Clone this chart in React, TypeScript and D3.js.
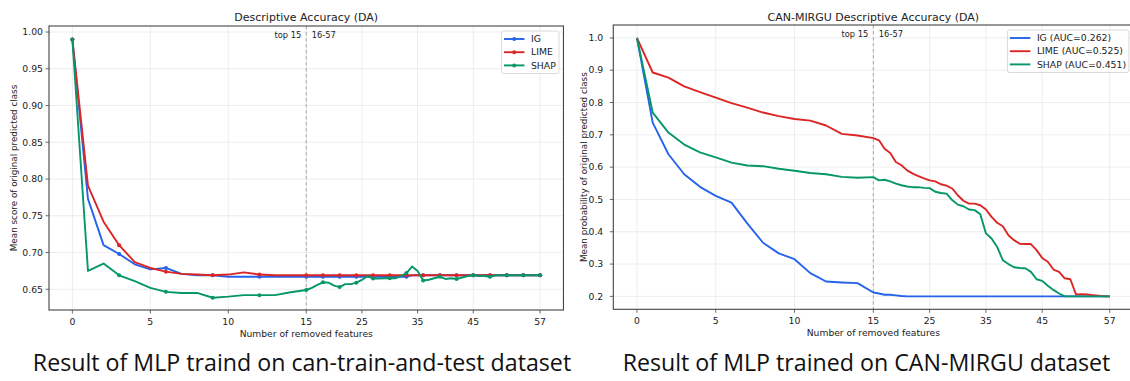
import React from "react";
import * as d3 from "d3";

// ---------- data ----------
const removedFeatures = d3.range(0, 58);
const xTickValues = [0, 5, 10, 15, 25, 35, 45, 57];

const leftTitle = "Descriptive Accuracy (DA)";
const leftYLabel = "Mean score of original predicted class";
const leftYTicks = [0.65, 0.7, 0.75, 0.8, 0.85, 0.9, 0.95, 1.0];
const leftLegend = ["IG", "LIME", "SHAP"];
const leftIG = [
  0.99, 0.773, 0.71, 0.698, 0.684, 0.677, 0.679, 0.671, 0.669, 0.669, 0.667, 0.667, 0.667, 0.667, 0.667, 0.667,
  0.667, 0.667, 0.667, 0.667, 0.667, 0.667, 0.667, 0.667, 0.667, 0.667, 0.667, 0.667, 0.667, 0.667, 0.667, 0.667,
  0.667, 0.667, 0.669, 0.669, 0.669, 0.669, 0.669, 0.669, 0.669, 0.669, 0.669, 0.669, 0.669, 0.669, 0.669, 0.669,
  0.669, 0.669, 0.669, 0.669, 0.669, 0.669, 0.669, 0.669, 0.669, 0.669,
];
const leftLIME = [
  0.99, 0.791, 0.742, 0.71, 0.687, 0.679, 0.674, 0.671, 0.67, 0.669, 0.67, 0.673, 0.67, 0.669, 0.669, 0.669,
  0.669, 0.669, 0.669, 0.669, 0.669, 0.669, 0.669, 0.669, 0.669, 0.669, 0.669, 0.669, 0.669, 0.669, 0.669, 0.669,
  0.669, 0.669, 0.669, 0.669, 0.669, 0.669, 0.669, 0.669, 0.669, 0.669, 0.669, 0.669, 0.669, 0.669, 0.669, 0.669,
  0.669, 0.669, 0.669, 0.669, 0.669, 0.669, 0.669, 0.669, 0.669, 0.669,
];
const leftSHAP = [
  0.99, 0.675, 0.685, 0.669, 0.661, 0.652, 0.6465, 0.645, 0.645, 0.6385, 0.64, 0.642, 0.642, 0.642, 0.646, 0.649,
  0.652, 0.656, 0.6595, 0.659, 0.655, 0.653, 0.657, 0.657, 0.659, 0.6627, 0.668, 0.6645, 0.6645, 0.665, 0.665, 0.665,
  0.668, 0.672, 0.681, 0.675, 0.662, 0.663, 0.665, 0.667, 0.664, 0.665, 0.664, 0.666, 0.668, 0.669, 0.668, 0.668,
  0.667, 0.669, 0.669, 0.669, 0.669, 0.669, 0.669, 0.669, 0.669, 0.669,
];

const rightTitle = "CAN-MIRGU Descriptive Accuracy (DA)";
const rightYLabel = "Mean probability of original predicted class";
const rightYTicks = [0.2, 0.3, 0.4, 0.5, 0.6, 0.7, 0.8, 0.9, 1.0];
const rightLegend = ["IG (AUC=0.262)", "LIME (AUC=0.525)", "SHAP (AUC=0.451)"];
const rightIG = [
  1.0, 0.738, 0.64, 0.578, 0.539, 0.511, 0.49, 0.426, 0.366, 0.333, 0.315, 0.272, 0.246, 0.243, 0.241, 0.212,
  0.209, 0.205, 0.205, 0.203, 0.201, 0.2, 0.2, 0.2, 0.2, 0.2, 0.2, 0.2, 0.2, 0.2, 0.2, 0.2,
  0.2, 0.2, 0.2, 0.2, 0.2, 0.2, 0.2, 0.2, 0.2, 0.2, 0.2, 0.2, 0.2, 0.2, 0.2, 0.2,
  0.2, 0.2, 0.2, 0.2, 0.2, 0.2, 0.2, 0.2, 0.2, 0.2,
];
const rightLIME = [
  1.0, 0.893, 0.877, 0.85, 0.832, 0.815, 0.798, 0.784, 0.769, 0.758, 0.749, 0.744, 0.729, 0.703, 0.698, 0.69,
  0.683, 0.657, 0.644, 0.616, 0.606, 0.59, 0.58, 0.572, 0.565, 0.559, 0.556, 0.547, 0.543, 0.534, 0.513, 0.496,
  0.487, 0.487, 0.482, 0.469, 0.446, 0.428, 0.417, 0.389, 0.374, 0.363, 0.362, 0.362, 0.343, 0.319, 0.307, 0.283,
  0.276, 0.256, 0.253, 0.206, 0.207, 0.206, 0.204, 0.202, 0.2, 0.2,
];
const rightSHAP = [
  1.0, 0.769, 0.707, 0.67, 0.646, 0.63, 0.614, 0.605, 0.603, 0.595, 0.589, 0.582, 0.578, 0.57, 0.567, 0.569,
  0.559, 0.561, 0.556, 0.549, 0.544, 0.54, 0.538, 0.538, 0.536, 0.535, 0.524, 0.52, 0.518, 0.498, 0.484, 0.479,
  0.469, 0.467, 0.454, 0.395, 0.379, 0.353, 0.312, 0.3, 0.29, 0.288, 0.287, 0.276, 0.253, 0.248, 0.233, 0.22,
  0.209, 0.2, 0.2, 0.2, 0.2, 0.2, 0.2, 0.2, 0.2, 0.2,
];

const captions = [
  "Result of MLP traind on can-train-and-test dataset",
  "Result of MLP trained on CAN-MIRGU dataset",
];

const colors = ["#2563eb", "#dc2626", "#059669"];
const FONT = "'DejaVu Sans', sans-serif";

type ChartProps = {
  id: string;
  left: number;
  top: number;
  bottom: number;
  unit: number; // px per feature in the first (top-15) part
  yDomain: [number, number];
  yTicks: number[];
  yFmt: (v: number) => string;
  title: string;
  yLabel: string;
  yLabelX: number;
  series: number[][];
  legend: string[];
  legendW: number;
  markers: boolean;
  tickLabelGap: number;
  caption: string;
  captionX: number;
};

function Chart(p: ChartProps) {
  const right = p.left + 33 * p.unit;
  // x: 0..15 linear, 15..57 compressed into the same width as 0..15
  const x = d3
    .scaleLinear()
    .domain([-1.5, 15, 15 + (16.5 * 42) / 15])
    .range([p.left, p.left + 16.5 * p.unit, right]);
  const y = d3.scaleLinear().domain(p.yDomain).range([p.bottom, p.top]);
  const line = d3
    .line<number>()
    .x((_, i) => x(removedFeatures[i]))
    .y((d) => y(d));
  const cx = (p.left + right) / 2;
  const x15 = x(15);
  const legendX = right - 4.5 - p.legendW;
  const legendY = p.top + 5;
  return (
    <g>
      <defs>
        <clipPath id={p.id}>
          <rect x={p.left} y={p.top} width={right - p.left} height={p.bottom - p.top} />
        </clipPath>
      </defs>
      {/* grid */}
      {xTickValues.map((t) => (
        <line key={"gx" + t} x1={x(t)} x2={x(t)} y1={p.top} y2={p.bottom} stroke="#e8e8e8" strokeWidth={0.8} />
      ))}
      {p.yTicks.map((t) => (
        <line key={"gy" + t} x1={p.left} x2={right} y1={y(t)} y2={y(t)} stroke="#e8e8e8" strokeWidth={0.8} />
      ))}
      {/* divider */}
      <line x1={x15} x2={x15} y1={p.top} y2={p.bottom} stroke="#a8a8a8" strokeWidth={1} strokeDasharray="3.5,2.5" />
      <text x={x15 - 5} y={p.top + 12} fontSize={8.3} fontFamily={FONT} textAnchor="end" fill="#222">
        top 15
      </text>
      <text x={x15 + 5.5} y={p.top + 12} fontSize={8.3} fontFamily={FONT} fill="#222">
        16-57
      </text>
      {/* lines */}
      <g clipPath={`url(#${p.id})`}>
        {p.series.map((s, k) => (
          <g key={"s" + k}>
            <path d={line(s) || ""} fill="none" stroke={colors[k]} strokeWidth={1.9} strokeLinejoin="round" />
            {p.markers &&
              s.map((v, i) =>
                i % 3 === 0 ? <circle key={i} cx={x(removedFeatures[i])} cy={y(v)} r={2} fill={colors[k]} /> : null
              )}
          </g>
        ))}
      </g>
      {/* spines */}
      <rect x={p.left} y={p.top} width={right - p.left} height={p.bottom - p.top} fill="none" stroke="#444" strokeWidth={1.1} />
      {/* x ticks */}
      {xTickValues.map((t) => (
        <g key={"tx" + t}>
          <line x1={x(t)} x2={x(t)} y1={p.bottom} y2={p.bottom + 3.5} stroke="#444" strokeWidth={0.8} />
          <text x={x(t)} y={p.bottom + 15} fontSize={9.3} fontFamily={FONT} textAnchor="middle" fill="#222">
            {t}
          </text>
        </g>
      ))}
      {/* y ticks */}
      {p.yTicks.map((t) => (
        <g key={"ty" + t}>
          <line x1={p.left - 3.5} x2={p.left} y1={y(t)} y2={y(t)} stroke="#444" strokeWidth={0.8} />
          <text
            x={p.left - p.tickLabelGap}
            y={y(t)}
            dy="0.35em"
            fontSize={9.3}
            fontFamily={FONT}
            textAnchor="end"
            fill="#222"
          >
            {p.yFmt(t)}
          </text>
        </g>
      ))}
      {/* labels */}
      <text x={cx} y={21} fontSize={11} fontFamily={FONT} textAnchor="middle" fill="#222">
        {p.title}
      </text>
      <text x={cx} y={p.bottom + 27} fontSize={9.2} fontFamily={FONT} textAnchor="middle" fill="#222">
        Number of removed features
      </text>
      <text
        transform={`translate(${p.yLabelX},${(p.top + p.bottom) / 2}) rotate(-90)`}
        dy="0.35em"
        fontSize={8.8}
        fontFamily={FONT}
        textAnchor="middle"
        fill="#222"
      >
        {p.yLabel}
      </text>
      {/* legend */}
      <rect x={legendX} y={legendY} width={p.legendW} height={42.5} rx={2} fill="#fff" fillOpacity={0.85} stroke="#d0d0d0" strokeWidth={0.8} />
      {p.legend.map((name, k) => {
        const ly = legendY + 8 + k * 13.2;
        return (
          <g key={"lg" + k}>
            <line x1={legendX + 2.5} x2={legendX + 23} y1={ly} y2={ly} stroke={colors[k]} strokeWidth={1.9} />
            {p.markers && <circle cx={legendX + 12.75} cy={ly} r={2} fill={colors[k]} />}
            <text x={legendX + 29.5} y={ly} dy="0.35em" fontSize={9.3} fontFamily={FONT} fill="#222">
              {name}
            </text>
          </g>
        );
      })}
      {/* caption */}
      <text x={p.captionX} y={371} fontSize={23.2} fontFamily="'Open Sans', sans-serif" textAnchor="middle" fill="#111">
        {p.caption}
      </text>
    </g>
  );
}

export default function App() {
  return (
    <svg
      width={1130}
      height={381}
      style={{ position: "absolute", left: 0, top: 0, background: "#fff" }}
      viewBox="0 0 1130 381"
    >
      <rect width={1130} height={381} fill="#fff" />
      <Chart
        id="clipL"
        left={49}
        top={26}
        bottom={310}
        unit={15.59}
        yDomain={[0.6218, 1.0082]}
        yTicks={leftYTicks}
        yFmt={(v) => v.toFixed(2)}
        title={leftTitle}
        yLabel={leftYLabel}
        yLabelX={14}
        series={[leftIG, leftLIME, leftSHAP]}
        legend={leftLegend}
        legendW={57.5}
        markers={true}
        tickLabelGap={6}
        caption={captions[0]}
        captionX={302}
      />
      <Chart
        id="clipR"
        left={613.3}
        top={25}
        bottom={309.3}
        unit={15.76}
        yDomain={[0.16, 1.04]}
        yTicks={rightYTicks}
        yFmt={(v) => v.toFixed(1)}
        title={rightTitle}
        yLabel={rightYLabel}
        yLabelX={584}
        series={[rightIG, rightLIME, rightSHAP]}
        legend={rightLegend}
        legendW={121.5}
        markers={false}
        tickLabelGap={10}
        caption={captions[1]}
        captionX={866.5}
      />
    </svg>
  );
}
